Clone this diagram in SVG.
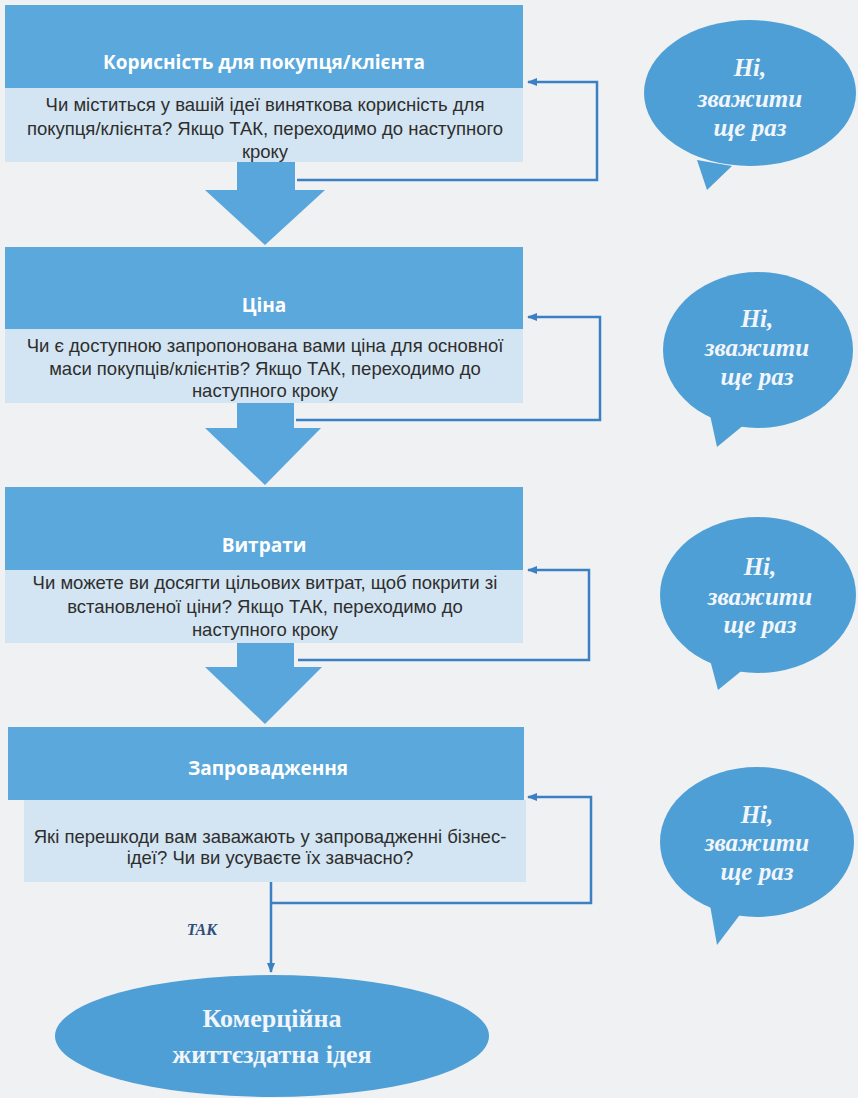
<svg xmlns="http://www.w3.org/2000/svg" width="858" height="1098" viewBox="0 0 858 1098">
<defs>
<style>
.hdr{fill:#5aa8dc}
.body{fill:#d3e5f2}
.ttl{font-family:"Open Sans","Liberation Sans",sans-serif;font-weight:bold;font-size:19px;fill:#ffffff;text-anchor:middle}
.txt{font-family:"Liberation Sans",sans-serif;font-size:18.5px;fill:#2e2e2e;text-anchor:middle}
.big{fill:#58a6dc}
.fb{fill:none;stroke:#3b80c2;stroke-width:2.5}
.bub{fill:#4e9fd6}
.bt{font-family:"Liberation Serif","DejaVu Serif",serif;font-weight:bold;font-style:italic;font-size:25px;fill:#f2f6fa;text-anchor:middle}
.ot{font-family:"Liberation Serif","DejaVu Serif",serif;font-weight:bold;font-size:26px;fill:#f2f6fa;text-anchor:middle}
.yes{font-family:"Liberation Serif","DejaVu Serif",serif;font-weight:bold;font-style:italic;font-size:16px;fill:#2f4f7a;text-anchor:middle}
</style>
<marker id="ah" markerWidth="10" markerHeight="8" refX="9" refY="4" orient="auto" markerUnits="userSpaceOnUse">
<path d="M0,0 L10,4 L0,8 Z" fill="#3b80c2"/>
</marker>
</defs>
<rect width="858" height="1098" fill="#f0f1f3"/>

<g id="step1">
<rect class="hdr" x="5" y="5" width="518" height="83"/>
<rect class="body" x="5" y="88" width="518" height="74"/>
<text class="ttl" x="264" y="69">Корисність для покупця/клієнта</text>
<text class="txt" x="265" y="111">Чи міститься у вашій ідеї виняткова корисність для</text>
<text class="txt" x="265" y="135">покупця/клієнта? Якщо ТАК, переходимо до наступного</text>
<text class="txt" x="265" y="158">кроку</text>
</g>

<g id="step2">
<rect class="hdr" x="5" y="247" width="518" height="82"/>
<rect class="body" x="5" y="329" width="518" height="74"/>
<text class="ttl" x="264" y="312">Ціна</text>
<text class="txt" x="265" y="352">Чи є доступною запропонована вами ціна для основної</text>
<text class="txt" x="265" y="375">маси покупців/клієнтів? Якщо ТАК, переходимо до</text>
<text class="txt" x="265" y="397">наступного кроку</text>
</g>

<g id="step3">
<rect class="hdr" x="5" y="487" width="518" height="83"/>
<rect class="body" x="5" y="570" width="518" height="73"/>
<text class="ttl" x="264" y="552">Витрати</text>
<text class="txt" x="265" y="589">Чи можете ви досягти цільових витрат, щоб покрити зі</text>
<text class="txt" x="265" y="613">встановленої ціни? Якщо ТАК, переходимо до</text>
<text class="txt" x="265" y="636">наступного кроку</text>
</g>

<g id="step4">
<rect class="hdr" x="8" y="727" width="516" height="73"/>
<rect class="body" x="24" y="800" width="502" height="82"/>
<text class="ttl" x="268" y="775">Запровадження</text>
<text class="txt" x="270" y="843">Які перешкоди вам заважають у запровадженні бізнес-</text>
<text class="txt" x="270" y="864">ідеї? Чи ви усуваєте їх завчасно?</text>
</g>

<g id="result">
<ellipse class="bub" cx="272" cy="1036" rx="217" ry="61"/>
<text class="ot" x="272" y="1027">Комерційна</text>
<text class="ot" x="272" y="1063">життєздатна ідея</text>
</g>

<g id="no1">
<path class="bub" d="M697,160 L707,190 L732,166 Z"/>
<ellipse class="bub" cx="750" cy="93" rx="106" ry="73"/>
<text class="bt" x="750" y="76">Ні,</text>
<text class="bt" x="750" y="107">зважити</text>
<text class="bt" x="750" y="136">ще раз</text>
</g>

<g id="no2">
<path class="bub" d="M710,415 L717,447 L745,424 Z"/>
<ellipse class="bub" cx="758" cy="350" rx="95" ry="78"/>
<text class="bt" x="757" y="327">Ні,</text>
<text class="bt" x="757" y="356">зважити</text>
<text class="bt" x="757" y="385">ще раз</text>
</g>

<g id="no3">
<path class="bub" d="M710,660 L718,690 L745,668 Z"/>
<ellipse class="bub" cx="758" cy="595" rx="98" ry="78"/>
<text class="bt" x="760" y="575">Ні,</text>
<text class="bt" x="760" y="605">зважити</text>
<text class="bt" x="760" y="633">ще раз</text>
</g>

<g id="no4">
<path class="bub" d="M710,905 L717,945 L742,912 Z"/>
<ellipse class="bub" cx="757" cy="842" rx="97" ry="75"/>
<text class="bt" x="757" y="823">Ні,</text>
<text class="bt" x="757" y="851">зважити</text>
<text class="bt" x="757" y="880">ще раз</text>
</g>

<g id="connectors">
<polygon class="big" points="237,162 295,162 295,190 325,190 265,245 205,190 237,190"/>
<polygon class="big" points="237,403 294,403 294,428 321,428 265,485 205,428 237,428"/>
<polygon class="big" points="237,643 294,643 294,667 322,667 265,724 205,667 237,667"/>
<polyline class="fb" points="297,180 597,180 597,82 528,82" marker-end="url(#ah)"/>
<polyline class="fb" points="296,420 600,420 600,317 528,317" marker-end="url(#ah)"/>
<polyline class="fb" points="298,660 589,660 589,570 528,570" marker-end="url(#ah)"/>
<polyline class="fb" points="271,903 591,903 591,797 528,797" marker-end="url(#ah)"/>
<line class="fb" x1="271" y1="882" x2="271" y2="972" marker-end="url(#ah)"/>
<text class="yes" x="202" y="935">ТАК</text>
</g>
</svg>
